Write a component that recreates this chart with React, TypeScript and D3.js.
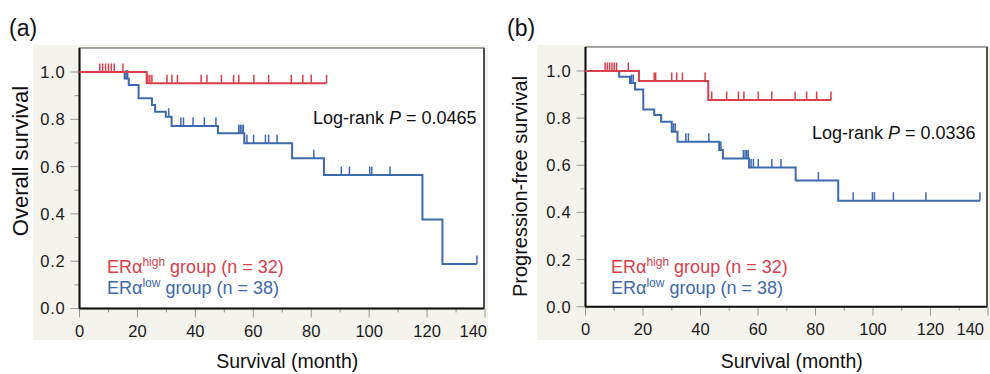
import * as d3 from "d3";

/* ---------------- data ---------------- */

// (a) overall survival, ERα-high group
const osHighEventTimes = [23.2];
const osHighSurvival = [0.952];
const osHighLastTime = 85.3;
const osHighCensored = [7, 8, 9, 10, 11, 12, 15, 23.6, 24.3, 25, 30.2, 31.9, 33.8, 42, 44, 49, 53.2, 55, 60.2, 65.3, 73.1, 77.1, 80, 85.3];

// (a) overall survival, ERα-low group
const osLowEventTimes = [15.6, 17.0, 20.4, 25.0, 26.1, 29.8, 31.8, 47.8, 56.9, 73.4, 84.4, 118.4, 125.3];
const osLowSurvival = [0.972, 0.945, 0.889, 0.86, 0.832, 0.811, 0.772, 0.741, 0.699, 0.635, 0.564, 0.376, 0.188];
const osLowLastTime = 137.2;
const osLowCensored = [16.1, 16.6, 30.8, 35, 35.9, 39.2, 43.1, 47.1, 55, 55.5, 56.1, 56.6, 57.8, 60.1, 64.2, 65.3, 68.2, 80.9, 90.4, 93.2, 100.2, 100.9, 107.2, 137.2];

// (b) progression-free survival, ERα-high group
const pfsHighEventTimes = [18.6, 42.7];
const pfsHighSurvival = [0.958, 0.877];
const pfsHighLastTime = 85.4;
const pfsHighCensored = [6.8, 7.6, 8.4, 9.2, 10, 10.8, 14.9, 23.9, 24.4, 30, 31.7, 33.7, 41.6, 43.9, 49.1, 53.2, 55.1, 60.1, 64.8, 72.9, 76.9, 80.4, 85.4];

// (b) progression-free survival, ERα-low group
const pfsLowEventTimes = [11.7, 15.5, 17.2, 20.1, 23.9, 26.3, 30.0, 32.0, 46.5, 47.8, 56.9, 73.1, 87.9];
const pfsLowSurvival = [0.976, 0.949, 0.922, 0.837, 0.813, 0.785, 0.742, 0.7, 0.665, 0.629, 0.591, 0.535, 0.45];
const pfsLowLastTime = 137.2;
const pfsLowCensored = [16.0, 16.6, 30.6, 31.2, 34.9, 35.8, 42.9, 47.1, 54.9, 55.5, 56.1, 56.6, 57.6, 58.4, 60.1, 64.8, 68, 81, 93.1, 99.8, 100.5, 107.1, 118.4, 137.2];

const xTicks = [0, 20, 40, 60, 80, 100, 120, 140];
const xMinorTicks = [10, 30, 50, 70, 90, 110, 130];
const yTicks = [0, 0.2, 0.4, 0.6, 0.8, 1.0];
const yMinorTicks = [0.1, 0.3, 0.5, 0.7, 0.9];

const highLabel = { n: 32 };
const lowLabel = { n: 38 };

/* ---------------- styling ---------------- */

const RED = "#d8404d";
const BLUE = "#3d69ad";
const FONT = "'Liberation Sans', Arial, Helvetica, sans-serif";
const BG = "#f4f3ee";

type Curve = { times: number[]; surv: number[]; last: number; censored: number[]; color: string };

function survivalAt(c: Curve, t: number) {
  let s = 1;
  c.times.forEach((ti, i) => {
    if (ti <= t) s = c.surv[i];
  });
  return s;
}

function stepPoints(c: Curve): [number, number][] {
  const pts: [number, number][] = [[0, 1]];
  c.times.forEach((t, i) => pts.push([t, c.surv[i]]));
  pts.push([c.last, c.surv[c.surv.length - 1]]);
  return pts;
}

interface PanelProps {
  left: number;
  right: number;
  top: number;
  y0: number;
  y1: number;
  bg: [number, number, number, number];
  tag: string;
  tagX: number;
  yTitle: string;
  yTitleX: number;
  yTitleY: number;
  yTitleSize: number;
  pValue: string;
  pX: number;
  pY: number;
  legendX: number;
  lastLabelEnd: number;
  curves: Curve[];
}

function Panel(p: PanelProps) {
  const x = d3.scaleLinear().domain([0, 140]).range([p.left, p.right]);
  const y = d3.scaleLinear().domain([0, 1]).range([p.y0, p.y1]);
  const line = d3
    .line<[number, number]>()
    .x((d) => x(d[0]))
    .y((d) => y(d[1]))
    .curve(d3.curveStepAfter);
  const frameRight = x(140) - 1;

  return (
    <g fontFamily={FONT}>
      <rect x={p.bg[0]} y={p.bg[1]} width={p.bg[2]} height={p.bg[3]} fill={BG} />
      <rect x={p.left} y={p.top} width={frameRight - p.left} height={p.y0 - p.top} fill="#fff" stroke="#8a8a8a" strokeWidth={1.5} />

      {/* y ticks */}
      {yMinorTicks.map((t) => (
        <line key={`ym${t}`} x1={p.left - 5} x2={p.left} y1={y(t)} y2={y(t)} stroke="#999" strokeWidth={1} />
      ))}
      {yTicks.map((t) => (
        <g key={`y${t}`}>
          <line x1={p.left - 9} x2={p.left} y1={y(t)} y2={y(t)} stroke="#999" strokeWidth={1} />
          <text x={p.left - 14} y={y(t)} dy="0.36em" textAnchor="end" fontSize={16.5} fill="#1a1a1a" letterSpacing={0.8}>
            {t.toFixed(1)}
          </text>
        </g>
      ))}

      {/* x ticks */}
      {xMinorTicks.map((t) => (
        <line key={`xm${t}`} x1={x(t)} x2={x(t)} y1={p.y0} y2={p.y0 + 4} stroke="#999" strokeWidth={1} />
      ))}
      {xTicks.map((t, i) => {
        const last = i === xTicks.length - 1;
        return (
          <g key={`x${t}`}>
            <line x1={x(t)} x2={x(t)} y1={p.y0} y2={p.y0 + 9} stroke="#999" strokeWidth={1} />
            <text
              x={last ? x(t) + p.lastLabelEnd : x(t)}
              y={p.y0 + 28}
              textAnchor={last ? "end" : "middle"}
              fontSize={16.5}
              fill="#1a1a1a"
            >
              {t}
            </text>
          </g>
        );
      })}

      {/* axes */}
      <line x1={p.left} x2={p.left} y1={p.top} y2={p.y0} stroke="#111" strokeWidth={2} />
      <line x1={p.left} x2={frameRight} y1={p.y0} y2={p.y0} stroke="#111" strokeWidth={2} />
      <line x1={frameRight} x2={frameRight} y1={p.top} y2={p.y0} stroke="#333" strokeWidth={1.5} />

      {/* curves */}
      {p.curves.map((c, ci) => (
        <g key={ci}>
          <path d={line(stepPoints(c)) ?? ""} fill="none" stroke={c.color} strokeWidth={2} />
          {c.censored.map((t, k) => {
            const yy = y(survivalAt(c, t));
            return <line key={k} x1={x(t)} x2={x(t)} y1={yy} y2={yy - 8.5} stroke={c.color} strokeWidth={1.5} />;
          })}
        </g>
      ))}

      {/* labels */}
      <text x={p.tagX} y={36} fontSize={23} fill="#111">
        {p.tag}
      </text>
      <text
        transform={`translate(${p.yTitleX},${p.yTitleY}) rotate(-90)`}
        textAnchor="middle"
        fontSize={p.yTitleSize}
        fill="#111"
      >
        {p.yTitle}
      </text>
      <text x={(p.left + p.right) / 2 + 5} y={368} textAnchor="middle" fontSize={19.5} fill="#111">
        Survival (month)
      </text>
      <text x={p.pX} y={p.pY} fontSize={18} fill="#111">
        Log-rank <tspan fontStyle="italic">P</tspan> = {p.pValue}
      </text>
      <text x={p.legendX} y={273} fontSize={18} fill={RED}>
        ERα<tspan dy={-7} fontSize={12}>high</tspan>
        <tspan dy={7}> group (n = {highLabel.n})</tspan>
      </text>
      <text x={p.legendX} y={293.5} fontSize={18} fill={BLUE}>
        ERα<tspan dy={-7} fontSize={12}>low</tspan>
        <tspan dy={7}> group (n = {lowLabel.n})</tspan>
      </text>
    </g>
  );
}

export default function App() {
  const osCurves: Curve[] = [
    { times: osLowEventTimes, surv: osLowSurvival, last: osLowLastTime, censored: osLowCensored, color: BLUE },
    { times: osHighEventTimes, surv: osHighSurvival, last: osHighLastTime, censored: osHighCensored, color: RED },
  ];
  const pfsCurves: Curve[] = [
    { times: pfsLowEventTimes, surv: pfsLowSurvival, last: pfsLowLastTime, censored: pfsLowCensored, color: BLUE },
    { times: pfsHighEventTimes, surv: pfsHighSurvival, last: pfsHighLastTime, censored: pfsHighCensored, color: RED },
  ];

  return (
    <svg width={990} height={374} style={{ position: "absolute", left: 0, top: 0, background: "#fff" }}>
      <Panel
        left={79.5}
        right={485}
        top={48}
        y0={308.5}
        y1={72}
        bg={[33, 45, 455, 295]}
        tag="(a)"
        tagX={9}
        yTitle="Overall survival"
        yTitleX={28}
        yTitleY={161}
        yTitleSize={22}
        pValue="0.0465"
        pX={313}
        pY={124}
        legendX={107}
        lastLabelEnd={2}
        curves={osCurves}
      />
      <Panel
        left={585.5}
        right={988}
        top={47}
        y0={306.7}
        y1={71}
        bg={[537, 45, 453, 295]}
        tag="(b)"
        tagX={507}
        yTitle="Progression-free survival"
        yTitleX={527}
        yTitleY={186.5}
        yTitleSize={20}
        pValue="0.0336"
        pX={812}
        pY={139}
        legendX={611}
        lastLabelEnd={-4}
        curves={pfsCurves}
      />
    </svg>
  );
}
